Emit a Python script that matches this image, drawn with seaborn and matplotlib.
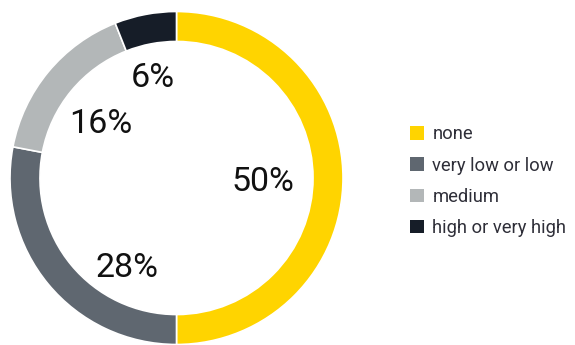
import matplotlib
matplotlib.use("Agg")
import matplotlib.pyplot as plt
from matplotlib.patches import Patch
import seaborn as sns

# Share of respondents by risk level
categories = ["none", "very low or low", "medium", "high or very high"]
shares = [50, 28, 16, 6]
labels = ["50%", "28%", "16%", "6%"]
colors = sns.color_palette(["#FFD400", "#5F6770", "#B3B7B8", "#161D28"])

# Label anchor points inside the ring (unit circle coordinates)
label_xy = [(0.52, -0.025), (-0.30, -0.54), (-0.455, 0.325), (-0.14, 0.60)]

sns.set_theme(style="white")
plt.rcParams["font.family"] = ["Roboto", "DejaVu Sans"]

fig = plt.figure(figsize=(5.75, 3.45), dpi=100)
# pie area in pixels: centre (176.5, 178), radius 166.5
W, H = 575, 345
r = 166.5
cx, cy = 176.5, 178
ax = fig.add_axes([(cx - r) / W, (H - cy - r) / H, 2 * r / W, 2 * r / H])

wedges, _ = ax.pie(
    shares,
    colors=colors,
    startangle=90,
    counterclock=False,
    radius=1.0,
    wedgeprops=dict(width=0.18, edgecolor="white", linewidth=1.2),
)
ax.set_xlim(-1, 1)
ax.set_ylim(-1, 1)
ax.set_aspect("equal")
ax.axis("off")

for txt, (x, y) in zip(labels, label_xy):
    ax.text(x, y, txt, ha="center", va="center", fontsize=24.5, color="#111111")

handles = [Patch(facecolor=c, edgecolor="none") for c in colors]
fig.legend(
    handles,
    categories,
    loc="upper left",
    bbox_to_anchor=(403 / W, 1 - 118 / H),
    frameon=False,
    fontsize=13.2,
    labelcolor="#2E2E38",
    handlelength=0.75,
    handleheight=0.75,
    handletextpad=0.45,
    labelspacing=0.72,
    borderaxespad=0,
)

fig.savefig("out.png", dpi=100, facecolor="white")
